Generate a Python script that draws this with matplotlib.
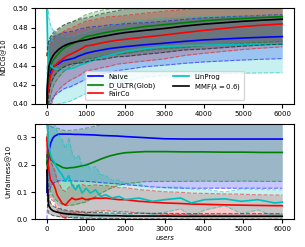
import matplotlib
matplotlib.use("Agg")
import matplotlib.pyplot as plt
import numpy as np

users = [0, 20, 50, 100, 150, 200, 300, 400, 500, 600, 700, 800, 1000, 1200,
         1400, 1600, 1800, 2000, 2500, 3000, 3500, 4000, 4500, 5000, 5500, 6000]
# denser grid for the noisier unfairness curves
users_fine = [0, 20, 35, 50, 90, 135, 180, 220, 260, 300, 390, 475, 560, 640, 730, 810, 900, 1000,
              1110, 1240, 1370, 1500, 1660, 1840, 2000, 2350, 2690, 3000, 3410, 3680, 4020, 4530,
              4960, 5380, 5810, 6000]

names = ["Naive", "D_ULTR(Glob)", "FairCo", "LinProg", r"MMF($\lambda=0.6$)"]
colors = ["b", "g", "r", "c", "k"]

# NDCG@10 mean / std
ndcg_naive = [0.410, 0.420, 0.428, 0.435, 0.438, 0.440, 0.442, 0.445, 0.446, 0.447, 0.448, 0.450, 0.453,
              0.455, 0.4565, 0.458, 0.459, 0.460, 0.462, 0.4636, 0.4655, 0.467, 0.468, 0.469, 0.4698, 0.4705]
ndcg_naive_sd = [0.05, 0.04, 0.035, 0.033, 0.032, 0.031, 0.030, 0.030, 0.029, 0.029, 0.028, 0.028, 0.027,
                 0.026, 0.025, 0.025, 0.024, 0.024, 0.023, 0.023, 0.023, 0.023, 0.023, 0.023, 0.023, 0.023]
ndcg_dultr = [0.400, 0.420, 0.432, 0.440, 0.445, 0.448, 0.453, 0.457, 0.460, 0.462, 0.464, 0.466, 0.4705,
              0.472, 0.474, 0.4755, 0.477, 0.478, 0.481, 0.483, 0.485, 0.487, 0.4885, 0.4895, 0.4905, 0.4914]
ndcg_dultr_sd = [0.05, 0.04, 0.033, 0.03, 0.028, 0.026, 0.025, 0.024, 0.024, 0.023, 0.023, 0.023, 0.023,
                 0.024, 0.024, 0.024, 0.025, 0.025, 0.025, 0.025, 0.026, 0.026, 0.026, 0.026, 0.026, 0.026]
ndcg_fairco = [0.400, 0.410, 0.420, 0.430, 0.435, 0.440, 0.444, 0.447, 0.450, 0.452, 0.454, 0.456, 0.4607,
               0.462, 0.464, 0.4655, 0.4667, 0.4677, 0.470, 0.4722, 0.4747, 0.477, 0.479, 0.481, 0.4825, 0.4838]
ndcg_fairco_sd = [0.05, 0.045, 0.04, 0.033, 0.031, 0.030, 0.029, 0.028, 0.028, 0.027, 0.027, 0.027, 0.026,
                  0.026, 0.026, 0.026, 0.025, 0.025, 0.025, 0.025, 0.024, 0.024, 0.024, 0.024, 0.024, 0.024]
ndcg_linprog = [0.500, 0.460, 0.445, 0.440, 0.438, 0.437, 0.436, 0.436, 0.436, 0.437, 0.438, 0.440, 0.443,
                0.446, 0.449, 0.451, 0.453, 0.455, 0.458, 0.460, 0.461, 0.4615, 0.462, 0.4622, 0.4625, 0.4628]
ndcg_linprog_sd = [0.06, 0.05, 0.045, 0.042, 0.040, 0.038, 0.036, 0.035, 0.034, 0.034, 0.033, 0.033, 0.032,
                   0.032, 0.031, 0.031, 0.031, 0.031, 0.030, 0.030, 0.030, 0.030, 0.030, 0.030, 0.030, 0.030]
ndcg_mmf = [0.400, 0.425, 0.439, 0.446, 0.450, 0.453, 0.457, 0.460, 0.462, 0.4635, 0.4645, 0.4655, 0.467,
            0.469, 0.4705, 0.472, 0.4735, 0.4747, 0.477, 0.479, 0.4815, 0.4835, 0.485, 0.4865, 0.4877, 0.4887]
ndcg_mmf_sd = [0.05, 0.035, 0.028, 0.025, 0.024, 0.023, 0.022, 0.022, 0.022, 0.022, 0.022, 0.023, 0.023,
               0.023, 0.024, 0.024, 0.024, 0.025, 0.025, 0.025, 0.025, 0.026, 0.026, 0.026, 0.026, 0.026]

# Unfairness@10 mean / std
unf_naive = [0.10, 0.18, 0.249, 0.28, 0.297, 0.305, 0.312, 0.312, 0.312, 0.312, 0.311, 0.311, 0.310,
             0.309, 0.307, 0.306, 0.305, 0.303, 0.299, 0.295, 0.294, 0.294, 0.294, 0.294, 0.294, 0.294]
unf_naive_sd = [0.10, 0.12, 0.15, 0.16, 0.165, 0.17, 0.171, 0.171, 0.171, 0.171, 0.171, 0.171, 0.171,
                0.172, 0.173, 0.174, 0.175, 0.176, 0.178, 0.179, 0.18, 0.18, 0.18, 0.18, 0.18, 0.18]
unf_dultr = [0.20, 0.249, 0.24, 0.22, 0.212, 0.205, 0.198, 0.19, 0.187, 0.189, 0.19, 0.193, 0.199,
             0.21, 0.222, 0.232, 0.239, 0.244, 0.248, 0.248, 0.247, 0.247, 0.246, 0.246, 0.245, 0.245]
unf_dultr_sd = [0.10, 0.10, 0.11, 0.12, 0.125, 0.13, 0.135, 0.137, 0.137, 0.137, 0.137, 0.136, 0.135,
                0.13, 0.125, 0.12, 0.116, 0.113, 0.11, 0.109, 0.108, 0.107, 0.107, 0.106, 0.106, 0.106]
unf_fairco = [0.30, 0.23, 0.20, 0.181, 0.145, 0.135, 0.126, 0.11, 0.09, 0.08, 0.059, 0.052, 0.067, 0.078,
              0.072, 0.074, 0.078, 0.072, 0.075, 0.078, 0.077, 0.078, 0.075, 0.072, 0.072, 0.066, 0.063,
              0.06, 0.058, 0.056, 0.055, 0.053, 0.052, 0.051, 0.05, 0.05]
unf_fairco_sd = [0.10, 0.10, 0.09, 0.08, 0.07, 0.065, 0.06, 0.06, 0.055, 0.055, 0.05, 0.05, 0.05, 0.05,
                 0.05, 0.05, 0.05, 0.05, 0.049, 0.048, 0.047, 0.046, 0.045, 0.044, 0.044, 0.043, 0.042,
                 0.041, 0.041, 0.04, 0.04, 0.04, 0.04, 0.039, 0.039, 0.039]
unf_linprog = [0.35, 0.33, 0.30, 0.27, 0.24, 0.22, 0.212, 0.20, 0.19, 0.18, 0.163, 0.139, 0.16, 0.126,
               0.108, 0.126, 0.096, 0.114, 0.096, 0.108, 0.084, 0.09, 0.078, 0.084, 0.072, 0.078, 0.066,
               0.072, 0.078, 0.06, 0.072, 0.075, 0.066, 0.072, 0.06, 0.063]
unf_linprog_sd = [0.15, 0.15, 0.15, 0.15, 0.15, 0.14, 0.14, 0.14, 0.13, 0.13, 0.13, 0.12, 0.14, 0.12,
                  0.11, 0.11, 0.10, 0.09, 0.09, 0.085, 0.08, 0.07, 0.065, 0.06, 0.058, 0.052, 0.048,
                  0.046, 0.04, 0.05, 0.038, 0.025, 0.045, 0.038, 0.048, 0.045]
unf_mmf = [0.18, 0.10, 0.05, 0.038, 0.032, 0.029, 0.025, 0.022, 0.020, 0.019, 0.018, 0.017, 0.015,
           0.014, 0.014, 0.013, 0.013, 0.012, 0.012, 0.012, 0.011, 0.011, 0.011, 0.011, 0.011, 0.011]
unf_mmf_sd = [0.06, 0.05, 0.03, 0.02, 0.018, 0.016, 0.015, 0.014, 0.013, 0.012, 0.012, 0.012, 0.011,
              0.011, 0.011, 0.010, 0.010, 0.010, 0.010, 0.010, 0.010, 0.010, 0.010, 0.010, 0.010, 0.010]

ndcg = [(users, ndcg_naive, ndcg_naive_sd), (users, ndcg_dultr, ndcg_dultr_sd),
        (users, ndcg_fairco, ndcg_fairco_sd), (users, ndcg_linprog, ndcg_linprog_sd),
        (users, ndcg_mmf, ndcg_mmf_sd)]
unf = [(users, unf_naive, unf_naive_sd), (users, unf_dultr, unf_dultr_sd),
       (users_fine, unf_fairco, unf_fairco_sd), (users_fine, unf_linprog, unf_linprog_sd),
       (users, unf_mmf, unf_mmf_sd)]

plt.rcParams["font.size"] = 5

fig = plt.figure(figsize=(3.05, 2.47), dpi=100)
ax1 = fig.add_axes([0.115, 0.579, 0.849, 0.387])
ax2 = fig.add_axes([0.115, 0.112, 0.849, 0.387])


def draw(ax, series):
    for (x, m, sd), name, c in zip(series, names, colors):
        x = np.array(x)
        m = np.array(m)
        sd = np.array(sd)
        ax.fill_between(x, m - sd, m + sd, color=c, alpha=0.22, lw=0)
        ax.plot(x, m - sd, color=c, ls="--", lw=0.8, alpha=0.5)
        ax.plot(x, m + sd, color=c, ls="--", lw=0.8, alpha=0.5)
        ax.plot(x, m, color=c, lw=1.2, label=name)


draw(ax1, ndcg)
draw(ax2, unf)

ax1.set_ylim(0.40, 0.50)
ax1.set_yticks([0.40, 0.42, 0.44, 0.46, 0.48, 0.50])
ax1.set_xlim(-300, 6300)
ax1.set_xticks(range(0, 6001, 1000))
ax1.set_ylabel("NDCG@10", fontsize=5)
ax1.legend(loc="lower center", ncol=2, fontsize=5, handlelength=2.2,
           columnspacing=2.5, labelspacing=0.3, borderpad=0.4, bbox_to_anchor=(0.5, 0.01))

ax2.set_ylim(0, 0.35)
ax2.set_yticks([0.0, 0.1, 0.2, 0.3])
ax2.set_xlim(-300, 6300)
ax2.set_xticks(range(0, 6001, 1000))
ax2.set_ylabel("Unfairness@10", fontsize=5)
ax2.set_xlabel("users", fontsize=5, style="italic", labelpad=2)

for ax in (ax1, ax2):
    ax.tick_params(labelsize=5, length=3, pad=2)

fig.savefig("out.png", dpi=100)
